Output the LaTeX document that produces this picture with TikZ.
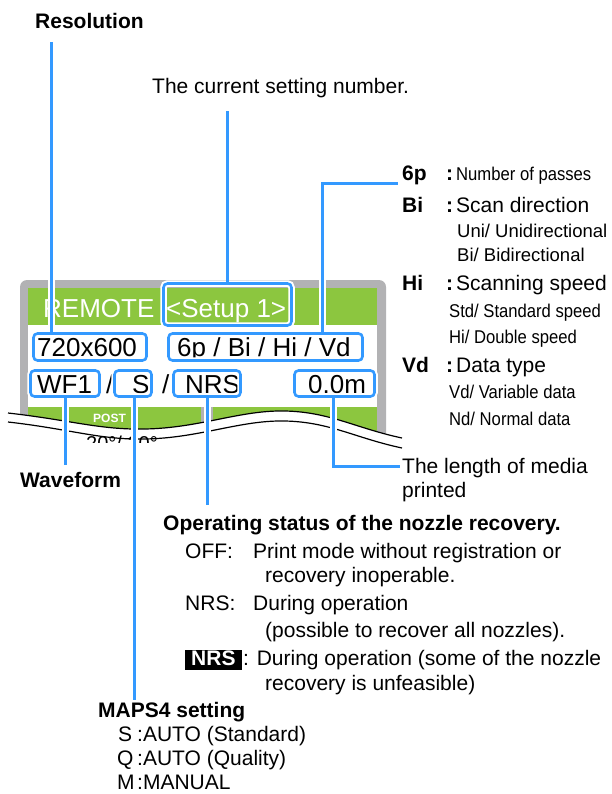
\documentclass[tikz,border=0pt]{standalone}
\usepackage{fontspec}
\setmainfont{Liberation Sans}
\newfontfamily\narrowfont{Liberation Sans}[FakeStretch=0.9]
\usepackage{tikz}
\definecolor{callblue}{HTML}{3399FF}
\definecolor{lcdgreen}{HTML}{8CC63F}
\definecolor{framegray}{HTML}{B2B2B4}
\newcommand\txtsize{\fontsize{21}{25}\selectfont}
\newcommand\smlsize{\fontsize{18.5}{22}\selectfont}
\newcommand\lcdsize{\fontsize{26}{30}\selectfont}
\tikzset{
  lcdtext/.style={anchor=base west,inner sep=0pt,font=\lcdsize},
  callbox/.style={draw=callblue,line width=2.6pt,rounded corners=4pt,inner sep=0pt,
                  preaction={draw=white,line width=6.5pt}},
  callout/.style={draw=callblue,line width=3pt,
                  preaction={draw=white,line width=7pt,shorten <=3pt}},
  headtext/.style={anchor=base west,inner sep=0pt,font=\txtsize\bfseries},
  bodytext/.style={anchor=base west,inner sep=0pt,font=\txtsize},
  subtext/.style={anchor=base west,inner sep=0pt,font=\smlsize},
  narrowtext/.style={anchor=base west,inner sep=0pt,font=\smlsize\narrowfont},
  cutline/.style={draw=black,line width=1.2pt}
}
\begin{document}
\begin{tikzpicture}[x=1pt,y=-1pt]
  \path[use as bounding box] (0,0) rectangle (612,794);
  % display panel
  \fill[framegray,rounded corners=7pt] (20,280) rectangle (386,452);
  \fill[lcdgreen] (28,288) rectangle (377,325);
  \fill[white] (28,325) rectangle (377,407);
  \fill[lcdgreen] (28,407) rectangle (201,452);
  \fill[lcdgreen] (213,407) rectangle (377,452);
  \node[lcdtext,text=white] (remote) at (43,317) {REMOTE};
  \node[lcdtext,text=white] (setupval) at (166,317) {<Setup 1>};
  \node[lcdtext] (resval) at (37,356) {720x600};
  \node[lcdtext] (modeval) at (177,356) {6p / Bi / Hi / Vd};
  \node[lcdtext] (wfval) at (37,393) {WF1};
  \node[lcdtext] (slashone) at (106,393) {/};
  \node[lcdtext] (mapsval) at (132,393) {S};
  \node[lcdtext] (slashtwo) at (162,393) {/};
  \node[lcdtext] (nrsval) at (185,393) {NRS};
  \node[lcdtext] (lenval) at (308,393) {0.0m};
  \node[anchor=base west,inner sep=0pt,text=white,
        font=\fontsize{12}{14}\selectfont\bfseries] (post) at (93,422) {POST};
  % cut through the panel
  \fill[white] (8,413) .. controls (70,420) and (100,430) .. (145,429)
    .. controls (200,428) and (240,410) .. (285,411)
    .. controls (330,412) and (355,428) .. (402,438)
    -- (402,460) -- (0,460) -- (0,413) -- cycle;
  \begin{scope}
    \clip (80,432) rectangle (170,442);
    \node[anchor=base west,inner sep=0pt,font=\fontsize{20}{24}\selectfont]
      (frag) at (86,450) {20°/ 20°};
  \end{scope}
  \draw[cutline] (8,413) .. controls (70,420) and (100,430) .. (145,429)
    .. controls (200,428) and (240,410) .. (285,411)
    .. controls (330,412) and (355,428) .. (402,438);
  \draw[cutline] (8,422) .. controls (70,429) and (100,440) .. (145,439)
    .. controls (200,438) and (240,420) .. (285,421)
    .. controls (330,422) and (355,438) .. (402,448);
  % callout boxes
  \node[callbox,minimum width=128pt,minimum height=42pt] (setupbox) at (227.5,304.5) {};
  \node[callbox,minimum width=113pt,minimum height=27pt] (resbox) at (90,347) {};
  \node[callbox,minimum width=194pt,minimum height=27pt] (modebox) at (265.5,347) {};
  \node[callbox,minimum width=69pt,minimum height=26pt] (wfbox) at (65,383.5) {};
  \node[callbox,minimum width=37pt,minimum height=26pt] (mapsbox) at (133,383.5) {};
  \node[callbox,minimum width=67pt,minimum height=26pt] (nrsbox) at (207,383.5) {};
  \node[callbox,minimum width=80pt,minimum height=26pt] (lenbox) at (334.5,383.5) {};
  % top labels
  \node[headtext] (reslbl) at (35,29) {Resolution};
  \node[bodytext] (setlbl) at (152,94) {The current setting number.};
  % right column
  \node[headtext] (passkey) at (402,181) {6p};
  \node[headtext] (passcol) at (446,181) {:};
  \node[narrowtext] (passdesc) at (456,181) {Number of passes};
  \node[headtext] (dirkey) at (402,213) {Bi};
  \node[headtext] (dircol) at (446,213) {:};
  \node[bodytext] (dirdesc) at (456,213) {Scan direction};
  \node[subtext] (dirone) at (457,237) {Uni/ Unidirectional};
  \node[subtext] (dirtwo) at (457,261) {Bi/ Bidirectional};
  \node[headtext] (spdkey) at (402,290) {Hi};
  \node[headtext] (spdcol) at (446,290) {:};
  \node[bodytext] (spddesc) at (456,290) {Scanning speed};
  \node[narrowtext] (spdone) at (449,317) {Std/ Standard speed};
  \node[narrowtext] (spdtwo) at (449,343) {Hi/ Double speed};
  \node[headtext] (datkey) at (402,372) {Vd};
  \node[headtext] (datcol) at (446,372) {:};
  \node[bodytext] (datdesc) at (456,372) {Data type};
  \node[narrowtext] (datone) at (449,398) {Vd/ Variable data};
  \node[narrowtext] (dattwo) at (449,425) {Nd/ Normal data};
  % lower labels
  \node[headtext] (wflbl) at (20,487) {Waveform};
  \node[bodytext] (lenlbl) at (402,473) {The length of media};
  \node[bodytext] (lenmore) at (402,497) {printed};
  \node[headtext] (oplbl) at (163,530) {Operating status of the nozzle recovery.};
  \node[bodytext] (offkey) at (185,558) {OFF:};
  \node[bodytext] (offdesc) at (253,558) {Print mode without registration or};
  \node[bodytext] (offmore) at (265,582) {recovery inoperable.};
  \node[bodytext] (nrskey) at (185,610) {NRS:};
  \node[bodytext] (nrsdesc) at (253,610) {During operation};
  \node[bodytext] (nrsmore) at (265,637) {(possible to recover all nozzles).};
  \node[anchor=base west,fill=black,text=white,font=\txtsize\bfseries,
        inner xsep=6pt,inner ysep=0pt,text height=15pt,text depth=5pt]
    (nrsinv) at (185,665) {NRS};
  \node[bodytext] (invdesc) at (243,665) {: During operation (some of the nozzle};
  \node[bodytext] (invmore) at (265,690) {recovery is unfeasible)};
  \node[headtext] (mapslbl) at (98,717) {MAPS4 setting};
  \node[bodytext] (mapss) at (118,741) {S};
  \node[bodytext] (mapssdesc) at (137,741) {:AUTO (Standard)};
  \node[bodytext] (mapsq) at (117,765) {Q};
  \node[bodytext] (mapsqdesc) at (137,765) {:AUTO (Quality)};
  \node[bodytext] (mapsm) at (117,789) {M};
  \node[bodytext] (mapsmdesc) at (137,789) {:MANUAL};
  % connectors
  \coordinate (resend) at (51,42);
  \coordinate (setend) at (227.5,111);
  \coordinate (passknee) at (322,184);
  \coordinate (passend) at (398,184);
  \coordinate (wfend) at (65,465);
  \coordinate (mapsend) at (134,700);
  \coordinate (nrsend) at (207,505);
  \coordinate (lenend) at (400,466);
  \draw[callout] (resbox.north -| resend) -- (resend);
  \draw[callout] (setupbox.north) -- (setend);
  \draw[callout] (modebox.north -| passknee) -- (passknee) -- (passend);
  \draw[callout] (wfbox.south) -- (wfend);
  \draw[callout] (mapsbox.south -| mapsend) -- (mapsend);
  \draw[callout] (nrsbox.south) -- (nrsend);
  \draw[callout] (lenbox.south -| 333,0) |- (lenend);
\end{tikzpicture}
\end{document}
